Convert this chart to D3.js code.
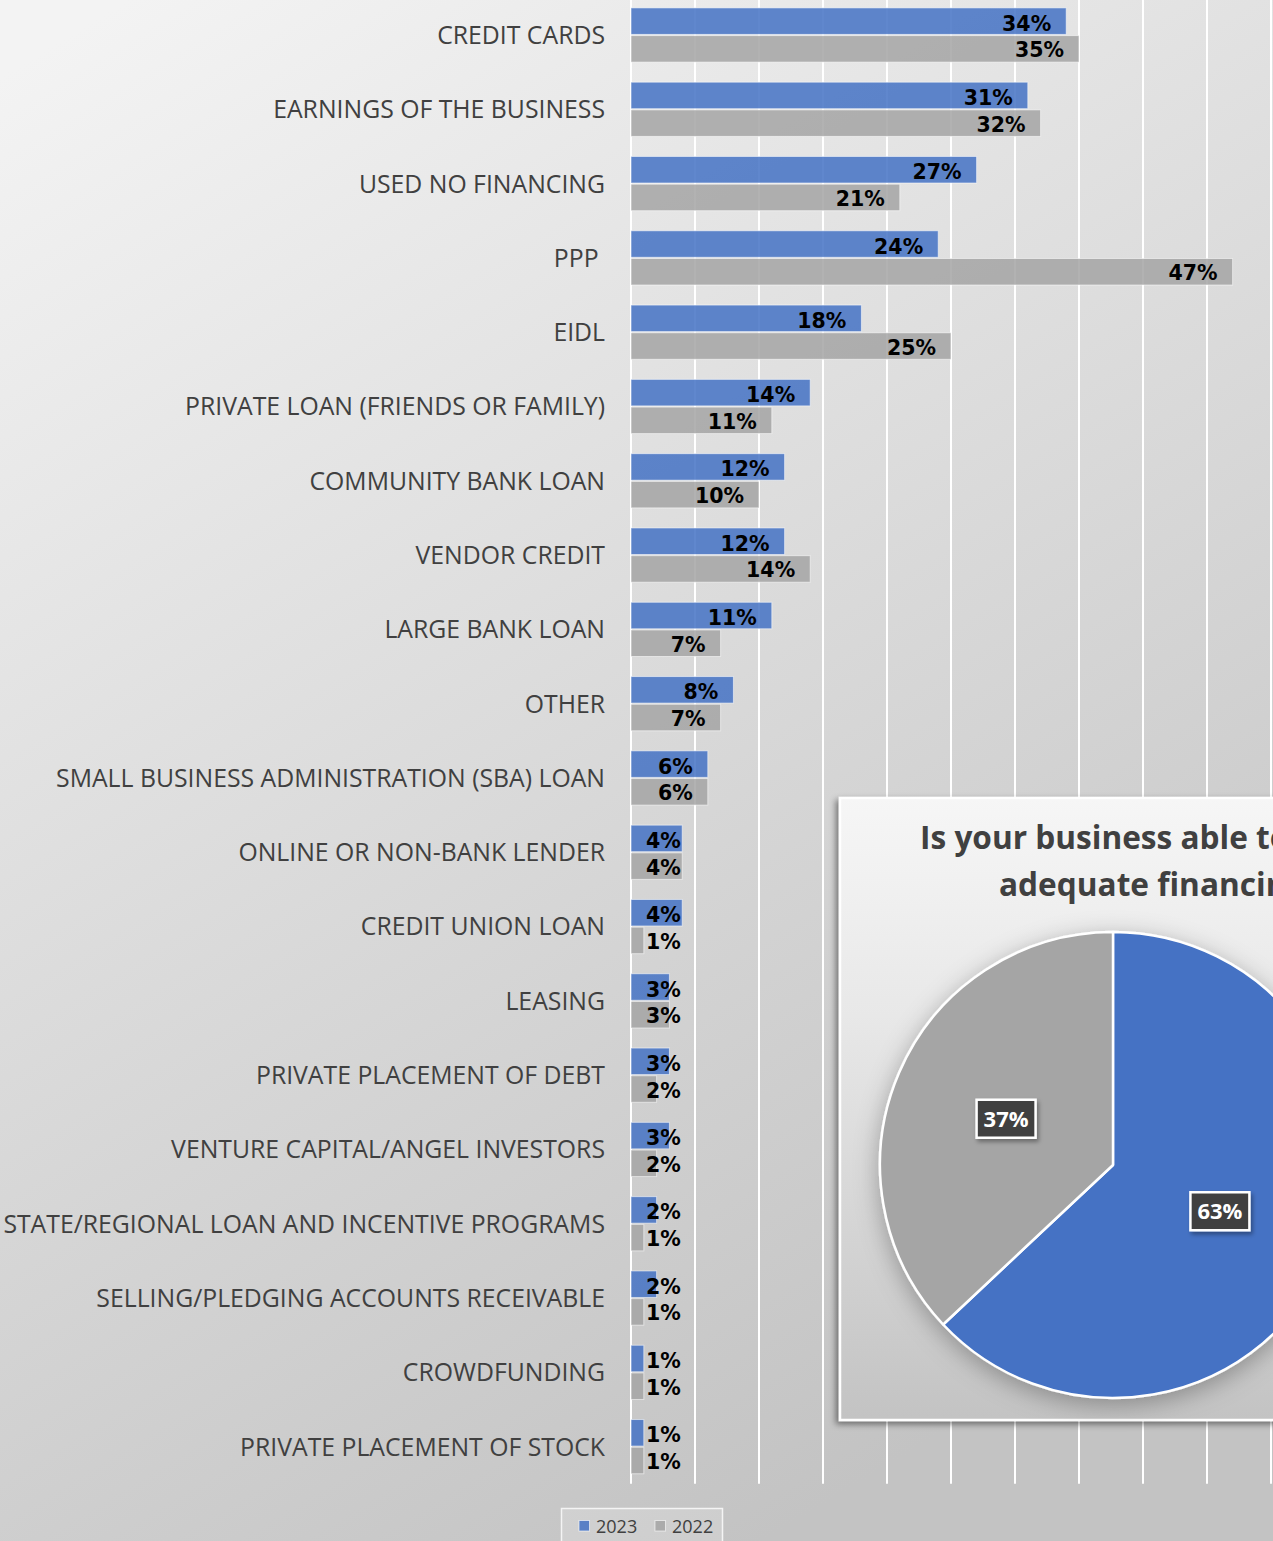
<!DOCTYPE html>
<html>
<head>
<meta charset="utf-8">
<script src="https://cdn.jsdelivr.net/npm/d3@7"></script>
<style>
  html, body { margin: 0; padding: 0; background: #d8d8d8; overflow: hidden; }
  svg { display: block; }
</style>
</head>
<body>
<svg id="chart" width="1273" height="1541"></svg>
<script>
// Financing sources used by businesses, 2023 vs 2022 (% of respondents)
const categories = [
  "CREDIT CARDS",
  "EARNINGS OF THE BUSINESS",
  "USED NO FINANCING",
  "PPP ",
  "EIDL",
  "PRIVATE LOAN (FRIENDS OR FAMILY)",
  "COMMUNITY BANK LOAN",
  "VENDOR CREDIT",
  "LARGE BANK LOAN",
  "OTHER",
  "SMALL BUSINESS ADMINISTRATION (SBA) LOAN",
  "ONLINE OR NON-BANK LENDER",
  "CREDIT UNION LOAN",
  "LEASING",
  "PRIVATE PLACEMENT OF DEBT",
  "VENTURE CAPITAL/ANGEL INVESTORS",
  "STATE/REGIONAL LOAN AND INCENTIVE PROGRAMS",
  "SELLING/PLEDGING ACCOUNTS RECEIVABLE",
  "CROWDFUNDING",
  "PRIVATE PLACEMENT OF STOCK"
];
const values2023 = [34, 31, 27, 24, 18, 14, 12, 12, 11, 8, 6, 4, 4, 3, 3, 3, 2, 2, 1, 1];
const values2022 = [35, 32, 21, 47, 25, 11, 10, 14, 7, 7, 6, 4, 1, 3, 2, 2, 1, 1, 1, 1];
const seriesNames = ["2023", "2022"];
const xTickValues = [0, 5, 10, 15, 20, 25, 30, 35, 40, 45, 50];

// Inset pie: able to obtain adequate financing?
const pieKeys = ["Yes", "No"];
const pieValues = [63, 37];
const pieTitleLines = ["Is your business able to obtain", "adequate financing?"];

const W = 1273, H = 1541;
const barColors = { "2023": "#4472C4", "2022": "#A5A5A5" };
const pieColors = { "Yes": "#4472C4", "No": "#A5A5A5" };
const textDark = "#404040";

const svg = d3.select("#chart");
const defs = svg.append("defs");

// background gradients
const bg = defs.append("linearGradient").attr("id", "bgGrad")
  .attr("x1", "0.1").attr("y1", "0").attr("x2", "0.6").attr("y2", "1");
bg.append("stop").attr("offset", "0%").attr("stop-color", "#f3f3f3");
bg.append("stop").attr("offset", "100%").attr("stop-color", "#c3c3c3");

const ig = defs.append("linearGradient").attr("id", "insetGrad")
  .attr("x1", "0").attr("y1", "0").attr("x2", "0").attr("y2", "1");
ig.append("stop").attr("offset", "0%").attr("stop-color", "#f6f6f6");
ig.append("stop").attr("offset", "35%").attr("stop-color", "#e8e8e8");
ig.append("stop").attr("offset", "100%").attr("stop-color", "#c3c3c3");

const boxShadow = defs.append("filter").attr("id", "boxShadow")
  .attr("x", "-10%").attr("y", "-10%").attr("width", "120%").attr("height", "120%");
boxShadow.append("feDropShadow").attr("dx", -3).attr("dy", 3)
  .attr("stdDeviation", 3).attr("flood-color", "#000").attr("flood-opacity", 0.45);

const pieShadow = defs.append("filter").attr("id", "pieShadow")
  .attr("x", "-20%").attr("y", "-20%").attr("width", "140%").attr("height", "140%");
pieShadow.append("feDropShadow").attr("dx", 0).attr("dy", 6)
  .attr("stdDeviation", 12).attr("flood-color", "#000").attr("flood-opacity", 0.3);

const tagShadow = defs.append("filter").attr("id", "tagShadow")
  .attr("x", "-30%").attr("y", "-30%").attr("width", "160%").attr("height", "160%");
tagShadow.append("feDropShadow").attr("dx", 2).attr("dy", 3)
  .attr("stdDeviation", 2).attr("flood-color", "#000").attr("flood-opacity", 0.35);

svg.append("rect").attr("width", W).attr("height", H).attr("fill", "url(#bgGrad)");

// ---- bar chart ----
const x = d3.scaleLinear().domain([0, 50]).range([631, 1271]);
const y = d3.scaleBand().domain(categories).range([-2.15, 1483.8])
  .paddingInner(0.254).paddingOuter(0.127);
const ys = d3.scaleBand().domain(seriesNames).range([0, y.bandwidth()]);

const plotTop = y.range()[0], plotBottom = y.range()[1];

svg.append("g").selectAll("line").data(xTickValues).join("line")
  .attr("x1", d => x(d)).attr("x2", d => x(d))
  .attr("y1", plotTop).attr("y2", plotBottom)
  .attr("stroke", "#ffffff").attr("stroke-width", 2);

const rows = categories.map((c, i) => ({ cat: c, "2023": values2023[i], "2022": values2022[i] }));
const barData = rows.flatMap(r => seriesNames.map(s => ({ cat: r.cat, series: s, value: r[s] })));

const barG = svg.append("g");
barG.selectAll("rect").data(barData).join("rect")
  .attr("x", x(0))
  .attr("y", d => y(d.cat) + ys(d.series) + 0.6)
  .attr("width", d => x(d.value) - x(0))
  .attr("height", ys.bandwidth() - 1.2)
  .attr("fill", d => barColors[d.series])
  .attr("fill-opacity", 0.85)
  .attr("stroke", "rgba(255,255,255,0.55)")
  .attr("stroke-width", 1);

// value labels: inside end, pushed out from the base when the bar is short
const valLabels = barG.selectAll("text").data(barData).join("text")
  .attr("font-family", "DejaVu Sans")
  .attr("font-weight", "bold")
  .attr("font-size", 20.5)
  .attr("fill", "#000")
  .attr("y", d => y(d.cat) + ys(d.series) + ys.bandwidth() / 2 + (d.series === "2023" ? 9.5 : 8.5))
  .text(d => d.value + "%");
valLabels.each(function(d) {
  const w = this.getComputedTextLength();
  const pad = 15;
  d3.select(this).attr("x", Math.max(x(d.value) - pad - w, x(0) + pad));
});

// category labels, sized so the longest fits the label column
const catG = svg.append("g");
const catLabels = catG.selectAll("text").data(categories).join("text")
  .attr("font-family", "Open Sans")
  .attr("font-size", 24)
  .attr("fill", textDark)
  .attr("text-anchor", "end")
  .style("white-space", "pre")
  .attr("x", 605)
  .text(d => d);
let maxW = 0;
catLabels.each(function() { maxW = Math.max(maxW, this.getComputedTextLength()); });
const catSize = 24 * 602 / maxW;
catLabels.attr("font-size", catSize)
  .attr("y", d => y(d) + y.bandwidth() / 2 + catSize * 0.36);

// ---- legend ----
const lg = svg.append("g");
lg.append("rect").attr("x", 561.5).attr("y", 1508.5).attr("width", 161).attr("height", 45)
  .attr("fill", "rgba(255,255,255,0.18)").attr("stroke", "#f4f4f4").attr("stroke-width", 1.5);
const legendX = { "2023": 579, "2022": 655 };
seriesNames.forEach(s => {
  lg.append("rect").attr("x", legendX[s]).attr("y", 1520.5).attr("width", 10.5).attr("height", 10.5)
    .attr("fill", barColors[s]).attr("fill-opacity", 0.85)
    .attr("stroke", "rgba(255,255,255,0.6)").attr("stroke-width", 1);
  lg.append("text").attr("x", legendX[s] + 17).attr("y", 1532.5)
    .attr("font-family", "Open Sans").attr("font-size", 18).attr("fill", textDark)
    .text(s);
});

// ---- inset pie ----
const inset = svg.append("g");
inset.append("rect").attr("x", 840).attr("y", 798).attr("width", 600).attr("height", 622)
  .attr("fill", "url(#insetGrad)").attr("stroke", "#ffffff").attr("stroke-width", 2.5)
  .attr("filter", "url(#boxShadow)");

const titleG = inset.append("g");
const titleStarts = [[920, 849], [999, 896]];
const titleTexts = titleG.selectAll("text").data(pieTitleLines).join("text")
  .attr("font-family", "Open Sans").attr("font-weight", "bold").attr("font-size", 32)
  .attr("fill", textDark)
  .text(d => d);
// condense the heading horizontally to the width of the box's heading style
const probe = titleG.append("text").attr("font-family", "Open Sans").attr("font-weight", "bold")
  .attr("font-size", 32).text("Is your business able t");
const sx = 350 / probe.node().getComputedTextLength();
probe.remove();
titleTexts.attr("transform", (d, i) => `translate(${titleStarts[i][0]},${titleStarts[i][1]}) scale(${sx},1)`);

const cx = 1113, cy = 1165, r = 233;
const pieData = pieKeys.map((k, i) => ({ key: k, value: pieValues[i] }));
const pie = d3.pie().sort(null).value(d => d.value);
const arc = d3.arc().innerRadius(0).outerRadius(r);
const arcs = pie(pieData);

const pieG = inset.append("g").attr("transform", `translate(${cx},${cy})`);
pieG.append("g").attr("filter", "url(#pieShadow)")
  .selectAll("path").data(arcs).join("path")
  .attr("d", arc)
  .attr("fill", d => pieColors[d.data.key])
  .attr("stroke", "#ffffff").attr("stroke-width", 2.5).attr("stroke-linejoin", "round");

const tags = pieG.selectAll("g.tag").data(arcs).join("g").attr("class", "tag")
  .attr("transform", d => `translate(${arc.centroid(d)})`);
tags.append("rect").attr("x", -29.5).attr("y", -19).attr("width", 59).attr("height", 38)
  .attr("fill", "#404040").attr("stroke", "#ffffff").attr("stroke-width", 2.5)
  .attr("filter", "url(#tagShadow)");
tags.append("text").attr("text-anchor", "middle").attr("y", 8)
  .attr("font-family", "Open Sans").attr("font-weight", "bold").attr("font-size", 22)
  .attr("fill", "#ffffff")
  .text(d => d.data.value + "%");
</script>
</body>
</html>
